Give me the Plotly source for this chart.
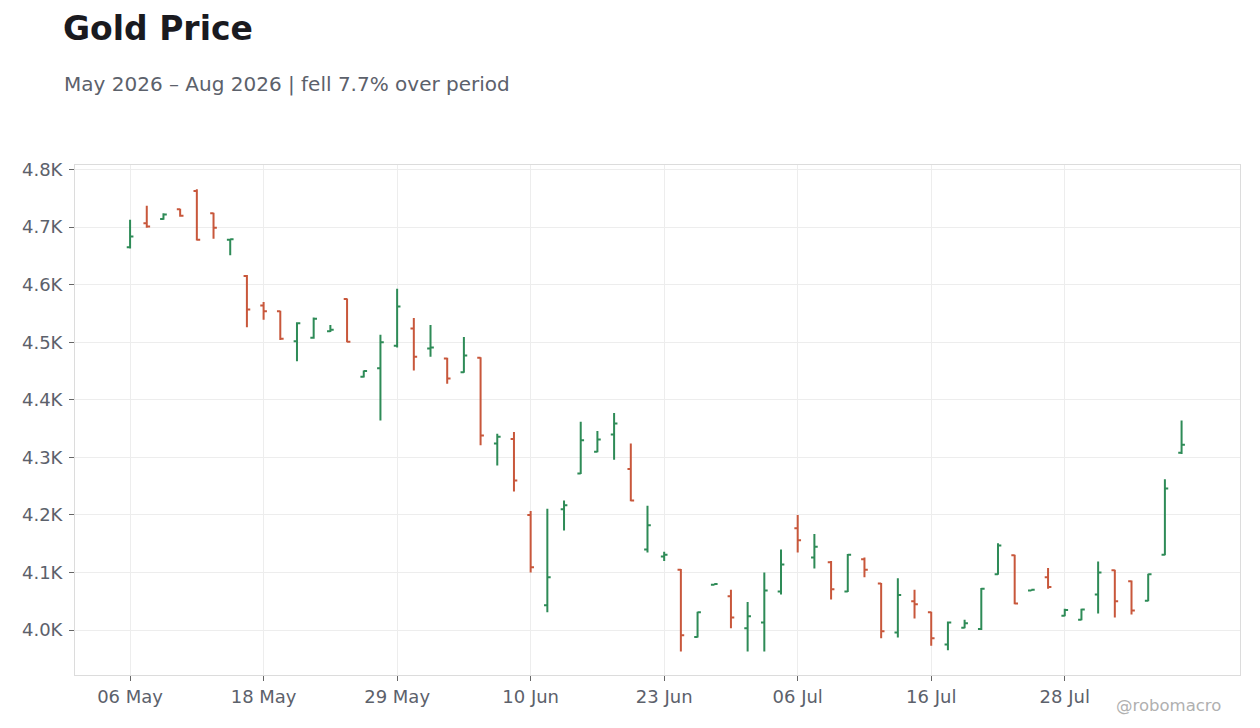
import plotly.graph_objects as go

dates = [
    "2026-05-06", "2026-05-07", "2026-05-08", "2026-05-11", "2026-05-12", "2026-05-13", "2026-05-14", "2026-05-15",
    "2026-05-18", "2026-05-19", "2026-05-20", "2026-05-21", "2026-05-22", "2026-05-26", "2026-05-27", "2026-05-28",
    "2026-05-29", "2026-06-01", "2026-06-02", "2026-06-03", "2026-06-04", "2026-06-05", "2026-06-08", "2026-06-09",
    "2026-06-10", "2026-06-11", "2026-06-12", "2026-06-15", "2026-06-16", "2026-06-17", "2026-06-18", "2026-06-22",
    "2026-06-23", "2026-06-24", "2026-06-25", "2026-06-26", "2026-06-29", "2026-06-30", "2026-07-01", "2026-07-02",
    "2026-07-06", "2026-07-07", "2026-07-08", "2026-07-09", "2026-07-10", "2026-07-13", "2026-07-14", "2026-07-15",
    "2026-07-16", "2026-07-17", "2026-07-20", "2026-07-21", "2026-07-22", "2026-07-23", "2026-07-24", "2026-07-27",
    "2026-07-28", "2026-07-29", "2026-07-30", "2026-07-31", "2026-08-03", "2026-08-04", "2026-08-05", "2026-08-06",
]

open_ = [
    4665, 4707, 4714, 4731, 4763, 4724, 4678, 4615,
    4564, 4554, 4502, 4508, 4519, 4575, 4440, 4455,
    4494, 4524, 4489, 4472, 4448, 4473, 4324, 4332,
    4200, 4043, 4210, 4272, 4310, 4340, 4280, 4140,
    4128, 4105, 3988, 4079, 4059, 4003, 4013, 4067,
    4177, 4126, 4118, 4067, 4123, 4081, 3996, 4050,
    4031, 3975, 4004, 4002, 4097, 4130, 4069, 4092,
    4025, 4018, 4062, 4104, 4085, 4051, 4131, 4308,
]
high = [
    4713, 4737, 4724, 4732, 4766, 4725, 4680, 4617,
    4570, 4555, 4535, 4543, 4530, 4576, 4451, 4513,
    4593, 4542, 4530, 4473, 4509, 4474, 4341, 4344,
    4207, 4211, 4225, 4362, 4346, 4377, 4324, 4216,
    4136, 4106, 4032, 4080, 4070, 4049, 4100, 4140,
    4200, 4167, 4120, 4132, 4126, 4082, 4090, 4070,
    4032, 4015, 4018, 4073, 4151, 4131, 4070, 4108,
    4037, 4037, 4119, 4105, 4086, 4098, 4262, 4364,
]
low = [
    4663, 4699, 4713, 4718, 4677, 4680, 4651, 4526,
    4539, 4504, 4467, 4506, 4518, 4500, 4439, 4364,
    4491, 4451, 4475, 4428, 4447, 4321, 4286, 4241,
    4100, 4031, 4173, 4271, 4309, 4296, 4224, 4135,
    4120, 3963, 3987, 4078, 4003, 3963, 3963, 4062,
    4135, 4107, 4053, 4066, 4092, 3986, 3987, 4020,
    3973, 3965, 4003, 4000, 4096, 4045, 4068, 4072,
    4024, 4017, 4029, 4022, 4027, 4050, 4130, 4306,
]
close = [
    4684, 4701, 4722, 4720, 4678, 4699, 4679, 4557,
    4554, 4506, 4533, 4541, 4522, 4501, 4450, 4500,
    4562, 4475, 4491, 4437, 4477, 4338, 4336, 4260,
    4109, 4092, 4217, 4330, 4331, 4359, 4225, 4182,
    4131, 3991, 4031, 4080, 4022, 4024, 4069, 4114,
    4156, 4145, 4071, 4131, 4105, 3998, 4061, 4045,
    3986, 4013, 4012, 4072, 4147, 4046, 4070, 4075,
    4035, 4036, 4100, 4050, 4034, 4097, 4246, 4322,
]

tick_dates = ["2026-05-06", "2026-05-18", "2026-05-29", "2026-06-10",
              "2026-06-23", "2026-07-06", "2026-07-16", "2026-07-28"]
tick_labels = ["06 May", "18 May", "29 May", "10 Jun", "23 Jun", "06 Jul", "16 Jul", "28 Jul"]

y_ticks = [4000, 4100, 4200, 4300, 4400, 4500, 4600, 4700, 4800]
y_labels = ["4.0K", "4.1K", "4.2K", "4.3K", "4.4K", "4.5K", "4.6K", "4.7K", "4.8K"]

GREEN = "#2e8b57"
RED = "#c8573b"
FONT = "DejaVu Sans"
TICK_COLOR = "#5c616b"

# page is offset by 8px body margin; layout values below are in figure coords
L, R, T, B = 67, 28, 157, 61
PW = 1260 - L - R
PH = 728 - T - B

fig = go.Figure(go.Ohlc(
    x=dates, open=open_, high=high, low=low, close=close,
    increasing=dict(line=dict(color=GREEN, width=2)),
    decreasing=dict(line=dict(color=RED, width=2)),
    tickwidth=0.2,
    showlegend=False,
))

fig.update_layout(
    width=1260, height=728,
    paper_bgcolor="white", plot_bgcolor="white",
    margin=dict(l=L, r=R, t=T, b=B),
    font=dict(family=FONT, color=TICK_COLOR, size=18),
    title=dict(
        text="<b>Gold Price</b>",
        font=dict(family=FONT, size=33, color="#1a1a1f"),
        xref="container", yref="container",
        x=55 / 1260, xanchor="left",
        y=1 - 20 / 728, yanchor="middle",
    ),
    xaxis=dict(
        type="category",
        range=[-3.3, 66.5],
        tickmode="array", tickvals=tick_dates, ticktext=tick_labels,
        showgrid=True, gridcolor="#ededed", gridwidth=1,
        showline=True, linecolor="#dcdcdc", linewidth=1, mirror=True,
        ticks="outside", ticklen=5, tickcolor="#666666",
        tickfont=dict(family=FONT, size=18, color=TICK_COLOR),
        rangeslider=dict(visible=False),
        zeroline=False,
    ),
    yaxis=dict(
        range=[3922, 4808],
        tickmode="array", tickvals=y_ticks, ticktext=y_labels,
        showgrid=True, gridcolor="#ededed", gridwidth=1,
        showline=True, linecolor="#dcdcdc", linewidth=1, mirror=True,
        ticks="outside", ticklen=5, tickcolor="#666666",
        ticklabelstandoff=3,
        tickfont=dict(family=FONT, size=18, color=TICK_COLOR),
        zeroline=False,
    ),
    annotations=[
        dict(
            text="May 2026 – Aug 2026 | fell 7.7% over period",
            xref="paper", yref="paper",
            x=(54 - L) / PW, y=(728 - B - 76.5) / PH,
            xanchor="left", yanchor="middle", showarrow=False,
            font=dict(family=FONT, size=20, color=TICK_COLOR),
        ),
        dict(
            text="@robomacro",
            xref="paper", yref="paper",
            x=(1215 - L) / PW, y=(728 - B - 697) / PH,
            xanchor="right", yanchor="middle", showarrow=False,
            font=dict(family=FONT, size=16.5, color="#b0b0b0"),
        ),
    ],
)

fig.write_html("out.html")
